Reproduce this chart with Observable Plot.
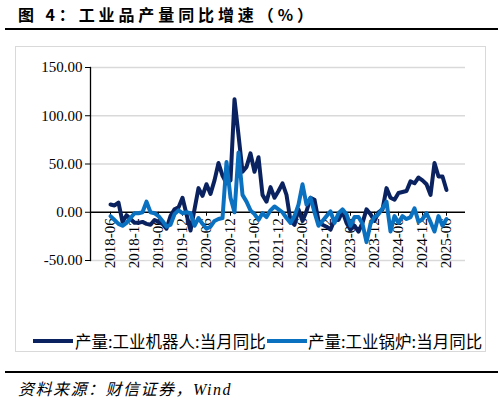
<!DOCTYPE html>
<html><head><meta charset="utf-8">
<script src="https://cdn.jsdelivr.net/npm/d3@7"></script>
<script src="https://cdn.jsdelivr.net/npm/@observablehq/plot@0.6"></script>
<style>
body{margin:0;background:#fff;}
#page{position:relative;width:504px;height:404px;overflow:hidden;background:#fff;}
#title{position:absolute;left:18px;top:3px;font:bold 16px "Noto Sans CJK SC",sans-serif;letter-spacing:3.9px;line-height:22px;color:#000;white-space:nowrap;}
.rule{position:absolute;left:5px;width:493px;height:2px;background:#000;}
#box{position:absolute;left:15px;top:46px;width:471px;height:306px;border:1px solid #d9d9d9;box-sizing:border-box;}
#chart{position:absolute;left:0;top:47px;}
.lg-line{position:absolute;width:40px;height:4px;top:339px;}
.lg-text{position:absolute;top:331px;font:16.5px "Noto Sans CJK SC",sans-serif;line-height:20px;color:#000;white-space:nowrap;}
#source{position:absolute;left:18px;top:380px;font:italic 16px "Liberation Serif","Noto Sans CJK SC",serif;letter-spacing:1.5px;line-height:20px;color:#000;white-space:nowrap;}
</style></head><body>
<div id="page">
  <div id="title">图 4：工业品产量同比增速（%）</div>
  <div class="rule" style="top:28px"></div>
  <div id="chart"></div>
  <div id="box"></div>
  <div id="legend"></div>
  <div class="rule" style="top:371px"></div>
  <div id="source">资料来源：财信证券，Wind</div>
</div>
<script>
// Monthly categories 2018-06 .. 2025-06
const months = d3.utcMonth.range(d3.utcParse("%Y-%m")("2018-06"), d3.utcParse("%Y-%m")("2025-07")).map(d3.utcFormat("%Y-%m"));
const xTickLabels = ["2018-06","2018-12","2019-06","2019-12","2020-06","2020-12","2021-06","2021-12","2022-06","2022-12","2023-06","2023-12","2024-06","2024-12","2025-06"];
const yTicks = [-50, 0, 50, 100, 150];
const gridTicks = [-50, 50, 100, 150];
const seriesNames = ["产量:工业机器人:当月同比", "产量:工业锅炉:当月同比"];
const seriesColors = ["#0a2260", "#0a70c0"];

// 产量:工业机器人:当月同比 (%)
const robot = [8,7,10,-10,-3,-7,-11,-11,-10,-12,-13,-8,-10,-12,-17,-4,3,5,15,-2,
  -19,3,25,17,29,19,33,51,38,30,33,117,80,42,47,61,42,57,18,11,
  26,15,22,30,18,-9,-13,3,-9,1,15,13,-9,-13,-15,-18,-8,-8,1,-11,
  -18,-14,-20,-11,3,-2,-9,0,3,25,15,13,20,21,22,32,30,36,33,29,
  18,51,37,37,23];
// 产量:工业锅炉:当月同比 (%)
const boiler = [-4,-8,-12,-14,-11,-6,-1,-1,0,11,0,-1,-4,-9,-15,-13,-2,2,-1,0,
  -1,-14,-6,-12,-17,-15,-9,-7,-6,52,15,0,62,18,11,2,-2,-8,-1,-5,
  2,6,3,0,-6,-11,-4,8,29,8,15,0,-14,-9,-4,1,-11,-1,3,-2,
  -14,-5,-5,-12,-31,-12,-5,-2,4,11,-20,-4,-11,-4,-7,-5,4,-10,-7,-1,
  -10,-20,-4,-14,-7];

const toRows = vals => months.map((m, i) => ({month: m, value: vals[i]}));

const H = 305, marginTop = 20, marginBottom = 92;
const yDomain = [-50, 150];
const zeroDy = -((0 - yDomain[0]) / (yDomain[1] - yDomain[0])) * (H - marginTop - marginBottom);

const chart = Plot.plot({
  width: 504, height: H, marginTop, marginBottom, marginLeft: 90, marginRight: 39,
  style: {background: "transparent", fontFamily: "'Liberation Serif', serif", color: "#000", overflow: "visible"},
  x: {type: "point", domain: months, range: [93, 462]},
  y: {domain: yDomain},
  marks: [
    Plot.gridY(gridTicks, {stroke: "#d9d9d9", strokeOpacity: 1, strokeWidth: 1.3}),
    Plot.axisX({ticks: xTickLabels, tickRotate: -90, tickSize: 4, tickPadding: 2, dy: zeroDy, fontSize: 15, label: null}),
    Plot.axisY({ticks: yTicks, tickSize: 5, tickPadding: 3, fontSize: 15, tickFormat: d => d.toFixed(2), label: null}),
    Plot.frame({anchor: "left", stroke: "#000", strokeWidth: 1.3}),
    Plot.ruleY([0], {stroke: "#000", strokeWidth: 1.5}),
    Plot.line(toRows(robot), {x: "month", y: "value", stroke: seriesColors[0], strokeWidth: 4, strokeLinejoin: "round"}),
    Plot.line(toRows(boiler), {x: "month", y: "value", stroke: seriesColors[1], strokeWidth: 4, strokeLinejoin: "round"})
  ]
});
document.getElementById("chart").appendChild(chart);

// Legend
const legend = document.getElementById("legend");
const lgX = [[33, 75], [267, 308]];
seriesNames.forEach((name, i) => {
  const ln = document.createElement("div");
  ln.className = "lg-line";
  ln.style.left = lgX[i][0] + "px";
  ln.style.background = seriesColors[i];
  legend.appendChild(ln);
  const tx = document.createElement("div");
  tx.className = "lg-text";
  tx.style.left = lgX[i][1] + "px";
  tx.textContent = name;
  legend.appendChild(tx);
});
</script>
</body></html>
